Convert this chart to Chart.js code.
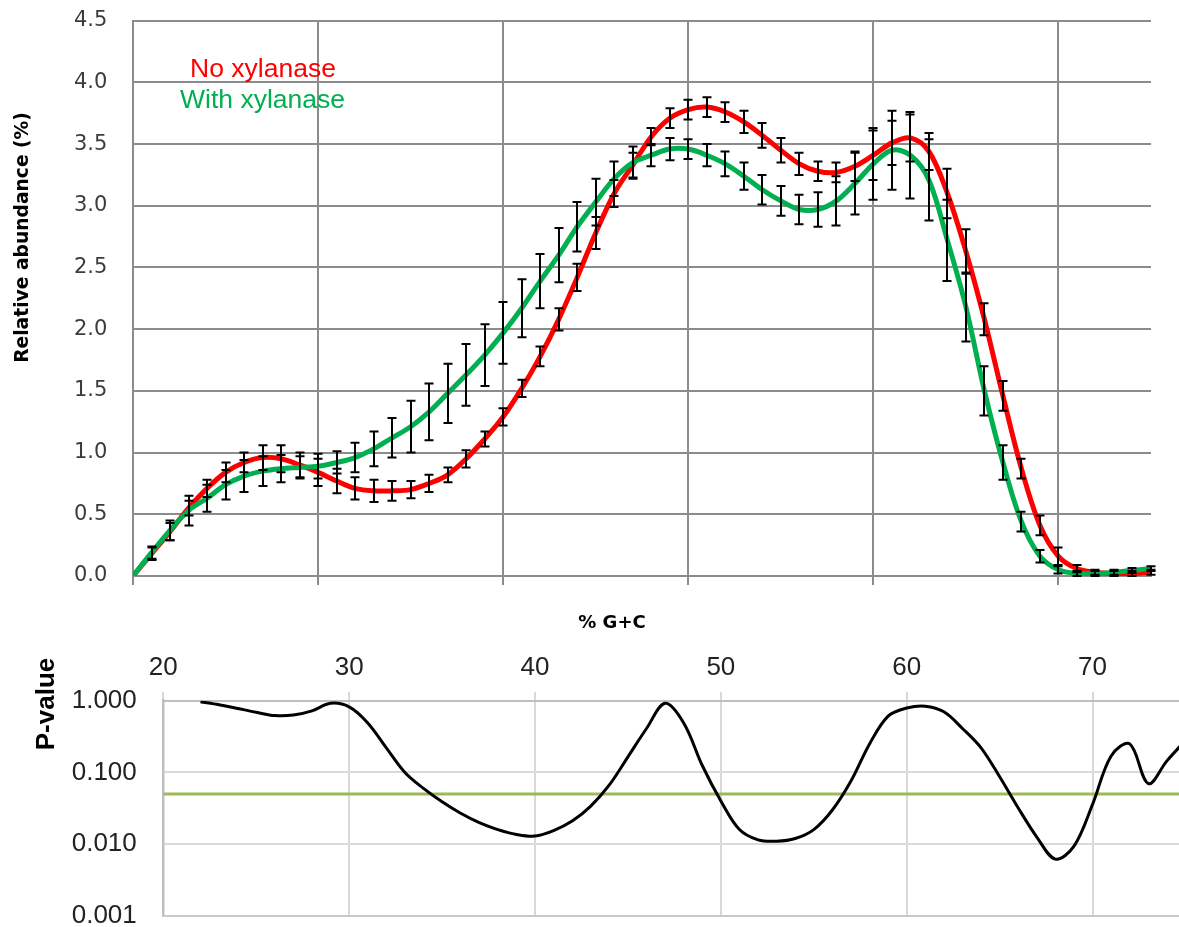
<!DOCTYPE html>
<html>
<head>
<meta charset="utf-8">
<script src="https://cdn.jsdelivr.net/npm/chart.js@4.4.1/dist/chart.umd.min.js"></script>
<style>
  html, body { margin: 0; padding: 0; background: #fff; }
  #wrap { position: relative; width: 1179px; height: 927px; overflow: hidden; }
  #boxTop { position: absolute; left: 0; top: 0; width: 1179px; height: 645px; }
  #boxBot { position: absolute; left: 0; top: 645px; width: 1179px; height: 300px; }
</style>
</head>
<body>
<div id="wrap">
  <div id="boxTop"><canvas id="chartTop" width="1179" height="645"></canvas></div>
  <div id="boxBot"><canvas id="chartBot" width="1179" height="300"></canvas></div>
</div>
<script>
/* GC profile with / without xylanase + p-value track */

function $(id){ return document.getElementById(id); }

// ---- data: top panel (x = % G+C) ----
const gcPercent = [20,21,22,23,24,25,26,27,28,29,30,31,32,33,34,35,36,37,38,39,
  40,41,42,43,44,45,46,47,48,49,50,51,52,53,54,55,56,57,58,59,
  60,61,62,63,64,65,66,67,68,69,70,71,72,73,74,75];

const noXylanase = [0.00,0.18,0.36,0.55,0.71,0.84,0.92,0.96,0.95,0.90,
  0.84,0.77,0.71,0.69,0.69,0.70,0.75,0.82,0.95,1.11,
  1.29,1.52,1.78,2.08,2.42,2.78,3.10,3.33,3.56,3.71,
  3.78,3.80,3.76,3.68,3.57,3.45,3.34,3.28,3.27,3.32,
  3.41,3.51,3.55,3.44,3.10,2.63,2.08,1.46,0.87,0.41,
  0.16,0.06,0.03,0.02,0.02,0.03];

const noXylanaseErr = [0,0.05,0.07,0.06,0.07,0.08,0.08,0.10,0.11,0.10,
  0.11,0.10,0.09,0.09,0.08,0.07,0.07,0.06,0.07,0.06,
  0.07,0.07,0.08,0.09,0.11,0.13,0.11,0.10,0.07,0.08,
  0.08,0.08,0.08,0.09,0.10,0.10,0.09,0.08,0.08,0.12,
  0.20,0.18,0.19,0.15,0.20,0.18,0.13,0.12,0.08,0.08,
  0.07,0.03,0.02,0.02,0.02,0.02];

const withXylanase = [0.00,0.19,0.37,0.53,0.63,0.74,0.81,0.85,0.87,0.88,
  0.89,0.92,0.96,1.03,1.12,1.21,1.33,1.48,1.63,1.79,
  1.97,2.17,2.39,2.60,2.83,3.03,3.22,3.35,3.41,3.46,
  3.46,3.41,3.34,3.24,3.13,3.04,2.97,2.97,3.04,3.18,
  3.34,3.45,3.41,3.21,2.72,2.18,1.50,0.92,0.44,0.16,
  0.05,0.02,0.02,0.03,0.045,0.06];

const withXylanaseErr = [0,0.05,0.08,0.12,0.11,0.12,0.13,0.12,0.11,0.09,
  0.10,0.09,0.12,0.14,0.16,0.21,0.23,0.24,0.25,0.25,
  0.25,0.235,0.22,0.22,0.20,0.19,0.14,0.13,0.09,0.09,
  0.08,0.09,0.10,0.11,0.12,0.12,0.12,0.14,0.20,0.25,
  0.29,0.32,0.35,0.33,0.33,0.28,0.20,0.14,0.08,0.05,
  0.03,0.02,0.02,0.02,0.02,0.02];

// ---- data: bottom panel ----
const pGc = [22,23,24,25,26,27,28,29,30,31,32,33,34,35,36,37,38,39,
  40,41,42,43,44,45,46,47,48,49,50,51,52,53,54,55,56,57,58,59,
  60,61,62,63,64,65,66,67,68,69,70,71,72,73,74,75];

const pValue = [0.97,0.88,0.78,0.69,0.62,0.63,0.72,0.92,0.82,0.49,0.22,0.10,0.06,0.039,0.027,0.020,0.016,0.0137,
  0.013,0.0155,0.021,0.034,0.067,0.165,0.41,0.92,0.49,0.125,0.04,0.016,0.0115,0.011,0.012,0.016,0.030,0.076,0.25,0.61,
  0.79,0.84,0.70,0.41,0.22,0.087,0.032,0.0126,0.0062,0.0094,0.036,0.17,0.25,0.07,0.145,0.28];

const pThreshold = 0.05;
const pTicks = [0.001, 0.01, 0.1, 1];

const RED = "#ff0000";
const GREEN = "#00b050";

function pts(xs, ys){ return xs.map((x, i) => ({ x: x, y: ys[i] })); }

/* -------- plugins -------- */
const errorBars = {
  id: "errorBars",
  afterDatasetsDraw(chart) {
    const ctx = chart.ctx;
    const ys = chart.scales.y;
    const cap = 4.5;
    ctx.save();
    ctx.strokeStyle = "#000";
    ctx.lineWidth = 2;
    chart.data.datasets.forEach((ds, i) => {
      if (!ds.errors) return;
      const meta = chart.getDatasetMeta(i);
      meta.data.forEach((pt, j) => {
        const e = ds.errors[j];
        if (!e) return;
        const v = ds.data[j].y;
        const x = Math.round(pt.x);
        const yTop = ys.getPixelForValue(v + e);
        const yBot = ys.getPixelForValue(Math.max(v - e, 0));
        ctx.beginPath();
        ctx.moveTo(x, yTop); ctx.lineTo(x, yBot);
        ctx.moveTo(x - cap, yTop); ctx.lineTo(x + cap, yTop);
        ctx.moveTo(x - cap, yBot); ctx.lineTo(x + cap, yBot);
        ctx.stroke();
      });
    });
    ctx.restore();
  }
};

const topTexts = {
  id: "topTexts",
  afterDraw(chart) {
    const ctx = chart.ctx;
    ctx.save();
    ctx.textAlign = "center";
    ctx.textBaseline = "alphabetic";
    ctx.font = "26.5px 'Liberation Sans', Arial, sans-serif";
    ctx.fillStyle = RED;
    ctx.fillText("No xylanase", 263, 77);
    ctx.fillStyle = GREEN;
    ctx.fillText("With xylanase", 262.5, 108);

    ctx.fillStyle = "#000";
    ctx.font = "bold 18px 'DejaVu Sans', sans-serif";
    ctx.textBaseline = "middle";
    ctx.fillText("% G+C", 612, 623);

    ctx.font = "bold 18.7px 'DejaVu Sans', sans-serif";
    ctx.translate(23, 237.5);
    ctx.rotate(-Math.PI / 2);
    ctx.fillText("Relative abundance (%)", 0, 0);
    ctx.restore();
  }
};

const botTexts = {
  id: "botTexts",
  afterDraw(chart) {
    const ctx = chart.ctx;
    ctx.save();
    ctx.fillStyle = "#000";
    ctx.font = "bold 26px 'Liberation Sans', Arial, sans-serif";
    ctx.textAlign = "center";
    ctx.textBaseline = "middle";
    ctx.translate(47, 59);
    ctx.rotate(-Math.PI / 2);
    ctx.fillText("P-value", 0, 0);
    ctx.restore();
  }
};

/* -------- top chart -------- */
const GRID_TOP = "#8c8c8c";

new Chart($("chartTop"), {
  type: "line",
  data: {
    datasets: [
      { label: "With xylanase", data: pts(gcPercent, withXylanase), errors: withXylanaseErr,
        borderColor: GREEN, borderWidth: 5, pointRadius: 0, tension: 0.35, fill: false, order: 0 },
      { label: "No xylanase", data: pts(gcPercent, noXylanase), errors: noXylanaseErr,
        borderColor: RED, borderWidth: 5, pointRadius: 0, tension: 0.35, fill: false, order: 1 }
    ]
  },
  options: {
    responsive: false,
    animation: false,
    // left padding = where the tick labels start; labels are left aligned (crossAlign far)
    layout: { padding: { left: 74, right: 28, top: 20.7, bottom: 0 } },
    plugins: { legend: { display: false }, tooltip: { enabled: false } },
    scales: {
      x: {
        type: "linear", min: 20, max: 75,
        ticks: { stepSize: 10, display: false, includeBounds: false },
        grid: { color: GRID_TOP, lineWidth: 2, tickLength: 9 },
        border: { color: GRID_TOP, width: 2 },
        afterFit: s => { s.height = 645 - 576; }
      },
      y: {
        min: 0, max: 4.5,
        ticks: { stepSize: 0.5, padding: 0, crossAlign: "far", color: "#3c3c3c",
          font: { family: "'DejaVu Sans', sans-serif", size: 21 },
          callback: v => v.toFixed(1) },
        grid: { color: GRID_TOP, lineWidth: 2, drawTicks: false },
        border: { color: GRID_TOP, width: 2 },
        afterFit: s => { s.width = 133 - 74; }
      }
    }
  },
  plugins: [errorBars, topTexts]
});

/* -------- bottom chart -------- */
new Chart($("chartBot"), {
  type: "line",
  data: {
    datasets: [
      { label: "P-value", data: pts(pGc, pValue), borderColor: "#000", borderWidth: 3,
        pointRadius: 0, tension: 0.35, fill: false, order: 0 },
      { label: "p = 0.05", data: [{ x: 20, y: pThreshold }, { x: 75, y: pThreshold }],
        borderColor: "#9bbb59", borderWidth: 3, pointRadius: 0, fill: false, order: 1 }
    ]
  },
  options: {
    responsive: false,
    animation: false,
    layout: { padding: { left: 71.7, right: 0, top: 0, bottom: 29 } },
    plugins: { legend: { display: false }, tooltip: { enabled: false } },
    scales: {
      x: {
        type: "linear", position: "top", min: 20, max: 74.65,
        ticks: { stepSize: 10, includeBounds: false, padding: 8, color: "#222",
          font: { family: "'Liberation Sans', Arial, sans-serif", size: 26 } },
        grid: { color: "#d9d9d9", lineWidth: 2, tickLength: 9 },
        border: { color: "#bfbfbf", width: 2 },
        afterFit: s => { s.height = 55.7; }
      },
      y: {
        type: "logarithmic", min: 0.001, max: 1,
        afterBuildTicks: s => { s.ticks = pTicks.map(v => ({ value: v })); },
        ticks: { padding: 0, crossAlign: "far", color: "#222",
          font: { family: "'Liberation Sans', Arial, sans-serif", size: 26 },
          callback: v => Number(v).toFixed(3) },
        grid: {
          drawTicks: false, lineWidth: 2,
          color: c => (c.tick && c.tick.value === 1) ? "#bfbfbf"
            : (c.tick && c.tick.value === 0.001) ? "#c8c8c8" : "#d9d9d9"
        },
        border: { color: "#bfbfbf", width: 2.5 },
        afterFit: s => { s.width = 163.3 - 71.7; }
      }
    }
  },
  plugins: [botTexts]
});
</script>
</body>
</html>
